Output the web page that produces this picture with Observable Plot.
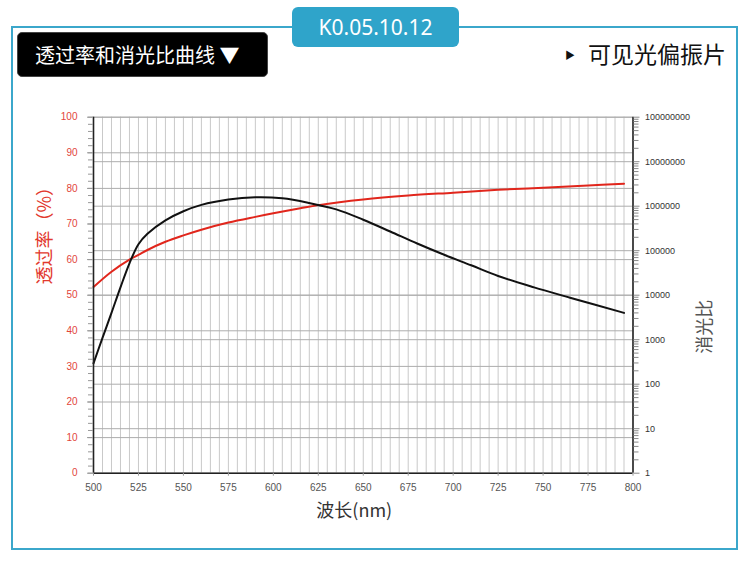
<!DOCTYPE html>
<html><head><meta charset="utf-8">
<script src="https://cdn.jsdelivr.net/npm/d3@7"></script>
<script src="https://cdn.jsdelivr.net/npm/@observablehq/plot@0.6"></script>
<style>
body{margin:0;background:#fff;}
#wrap{position:relative;width:750px;height:561px;overflow:hidden;font-family:"Noto Sans CJK SC","Noto Sans",sans-serif;}
#frame{position:absolute;left:11px;top:26px;width:727px;height:524px;border:2px solid #3ba7cb;box-sizing:border-box;}
#code{position:absolute;left:292px;top:7px;width:167px;height:40px;background:#2fa4ca;border-radius:6px;color:#fff;font-family:"Noto Sans",sans-serif;font-size:21px;line-height:40px;text-align:center;}
#btn{position:absolute;left:17px;top:32px;width:251px;height:45px;background:#000;border-radius:5px;border:1px solid #444;box-sizing:border-box;color:#fff;font-size:20px;line-height:43px;padding-left:17px;white-space:nowrap;}
#prod{position:absolute;left:565px;top:36px;font-size:23px;line-height:34px;color:#111;white-space:nowrap;}
#prod .tri{font-size:10px;vertical-align:4px;margin-right:13px;}
#chart{position:absolute;left:0;top:90px;}
</style></head>
<body>
<div id="wrap">
  <div id="frame"></div>
  <div id="code">K0.05.10.12</div>
  <div id="btn">透过率和消光比曲线 ▼</div>
  <div id="prod"><span class="tri">▶</span>可见光偏振片</div>
  <div id="chart"></div>
</div>
<script>
// Transmittance (%) — left axis
const wavelength = [500, 510, 520, 525, 530, 540, 550, 560, 575, 590, 600, 615, 625, 650, 675, 700, 725, 750, 775, 795];
const transmittance = [52.3, 56.6, 60.0, 61.3, 62.7, 65.0, 66.8, 68.4, 70.4, 72.0, 73.0, 74.4, 75.3, 76.9, 78.0, 78.8, 79.6, 80.2, 80.8, 81.3];
// Extinction ratio — right (log) axis
const extWavelength = [500, 505, 510, 515, 520, 525, 530, 540, 550, 560, 575, 590, 605, 620, 635, 650, 665, 680, 695, 710, 725, 745, 765, 795];
const extinction = [295, 1100, 4000, 15000, 52000, 140000, 240000, 480000, 770000, 1070000, 1410000, 1580000, 1500000, 1180000, 850000, 497000, 270000, 145000, 81000, 47000, 27000, 15000, 8800, 4000];
// Tick labels
const xTicks = [500, 525, 550, 575, 600, 625, 650, 675, 700, 725, 750, 775, 800];
const leftTicks = [0, 10, 20, 30, 40, 50, 60, 70, 80, 90, 100];
const rightTicks = [1, 10, 100, 1000, 10000, 100000, 1000000, 10000000, 100000000];

const DEC = 100 / (rightTicks.length - 1);
const toY = v => Math.log10(v) * DEC;
const redData = wavelength.map((w, i) => ({w, t: transmittance[i]}));
const blackData = extWavelength.map((w, i) => ({w, e: extinction[i]}));
const rightPos = rightTicks.map(toY);
const minorLog = [];
for (let k = 0; k < rightTicks.length - 1; k++) for (let m = 2; m <= 9; m++) minorLog.push(toY(m * 10 ** k));
const fmtRight = d => String(Math.round(10 ** (d / DEC)));

const chart = Plot.plot({
  width: 750, height: 450,
  marginTop: 26.7, marginBottom: 67.3, marginLeft: 93, marginRight: 117.5,
  style: {fontFamily: "'Liberation Sans', Arial, sans-serif", fontSize: "10px", background: "transparent"},
  x: {domain: [500, 800]},
  y: {domain: [0, 100]},
  marks: [
    Plot.ruleX(d3.range(500, 801, 5), {stroke: "#c9c9c9", strokeWidth: 1}),
    Plot.ruleY(leftTicks, {stroke: "#adadad", strokeWidth: 1}),
    Plot.ruleY(rightPos, {stroke: "#adadad", strokeWidth: 1}),
    Plot.line(redData, {x: "w", y: "t", stroke: "#e1261c", strokeWidth: 2, curve: "catmull-rom"}),
    Plot.line(blackData, {x: "w", y: d => toY(d.e), stroke: "#111", strokeWidth: 2, curve: "catmull-rom"}),
    Plot.ruleX([500, 800], {stroke: "#222", strokeWidth: 1.6}),
    Plot.ruleY([0], {stroke: "#222", strokeWidth: 1.6}),
    // left axis
    Plot.axisY({ticks: d3.range(0, 101, 2), tickFormat: () => "", tickSize: 5, anchor: "left", label: null, stroke: "#999"}),
    Plot.axisY({ticks: leftTicks, tickSize: 6, tickPadding: 10, anchor: "left", label: null, stroke: "#999", fill: "#e2453b", fontSize: 10}),
    // right axis
    Plot.axisY({ticks: minorLog, tickFormat: () => "", tickSize: 5, anchor: "right", label: null, stroke: "#888"}),
    Plot.axisY({ticks: rightPos, tickFormat: fmtRight, tickSize: 6, tickPadding: 6, anchor: "right", label: null, stroke: "#888", fill: "#333", fontSize: 9}),
    // bottom axis
    Plot.axisX({ticks: xTicks, tickSize: 3, tickPadding: 8, anchor: "bottom", label: null, stroke: "#999", fill: "#555", fontSize: 10}),
    // titles
    Plot.text(["透过率（%）"], {text: d => d, frameAnchor: "left", dx: -48, dy: -10.7, rotate: -90, fill: "#e2392e", fontSize: 18, fontFamily: "'Noto Sans CJK SC', sans-serif"}),
    Plot.text(["消光比"], {text: d => d, frameAnchor: "right", dx: 72.5, dy: 4.5, rotate: -90, fill: "#555", fontSize: 18, fontFamily: "'Noto Sans CJK SC', sans-serif"}),
    Plot.text(["波长(nm)"], {text: d => d, frameAnchor: "bottom", dx: -9, dy: 44, fill: "#333", fontSize: 18, fontFamily: "'Noto Sans CJK SC', sans-serif"})
  ]
});
document.getElementById("chart").appendChild(chart);
</script>
</body></html>
